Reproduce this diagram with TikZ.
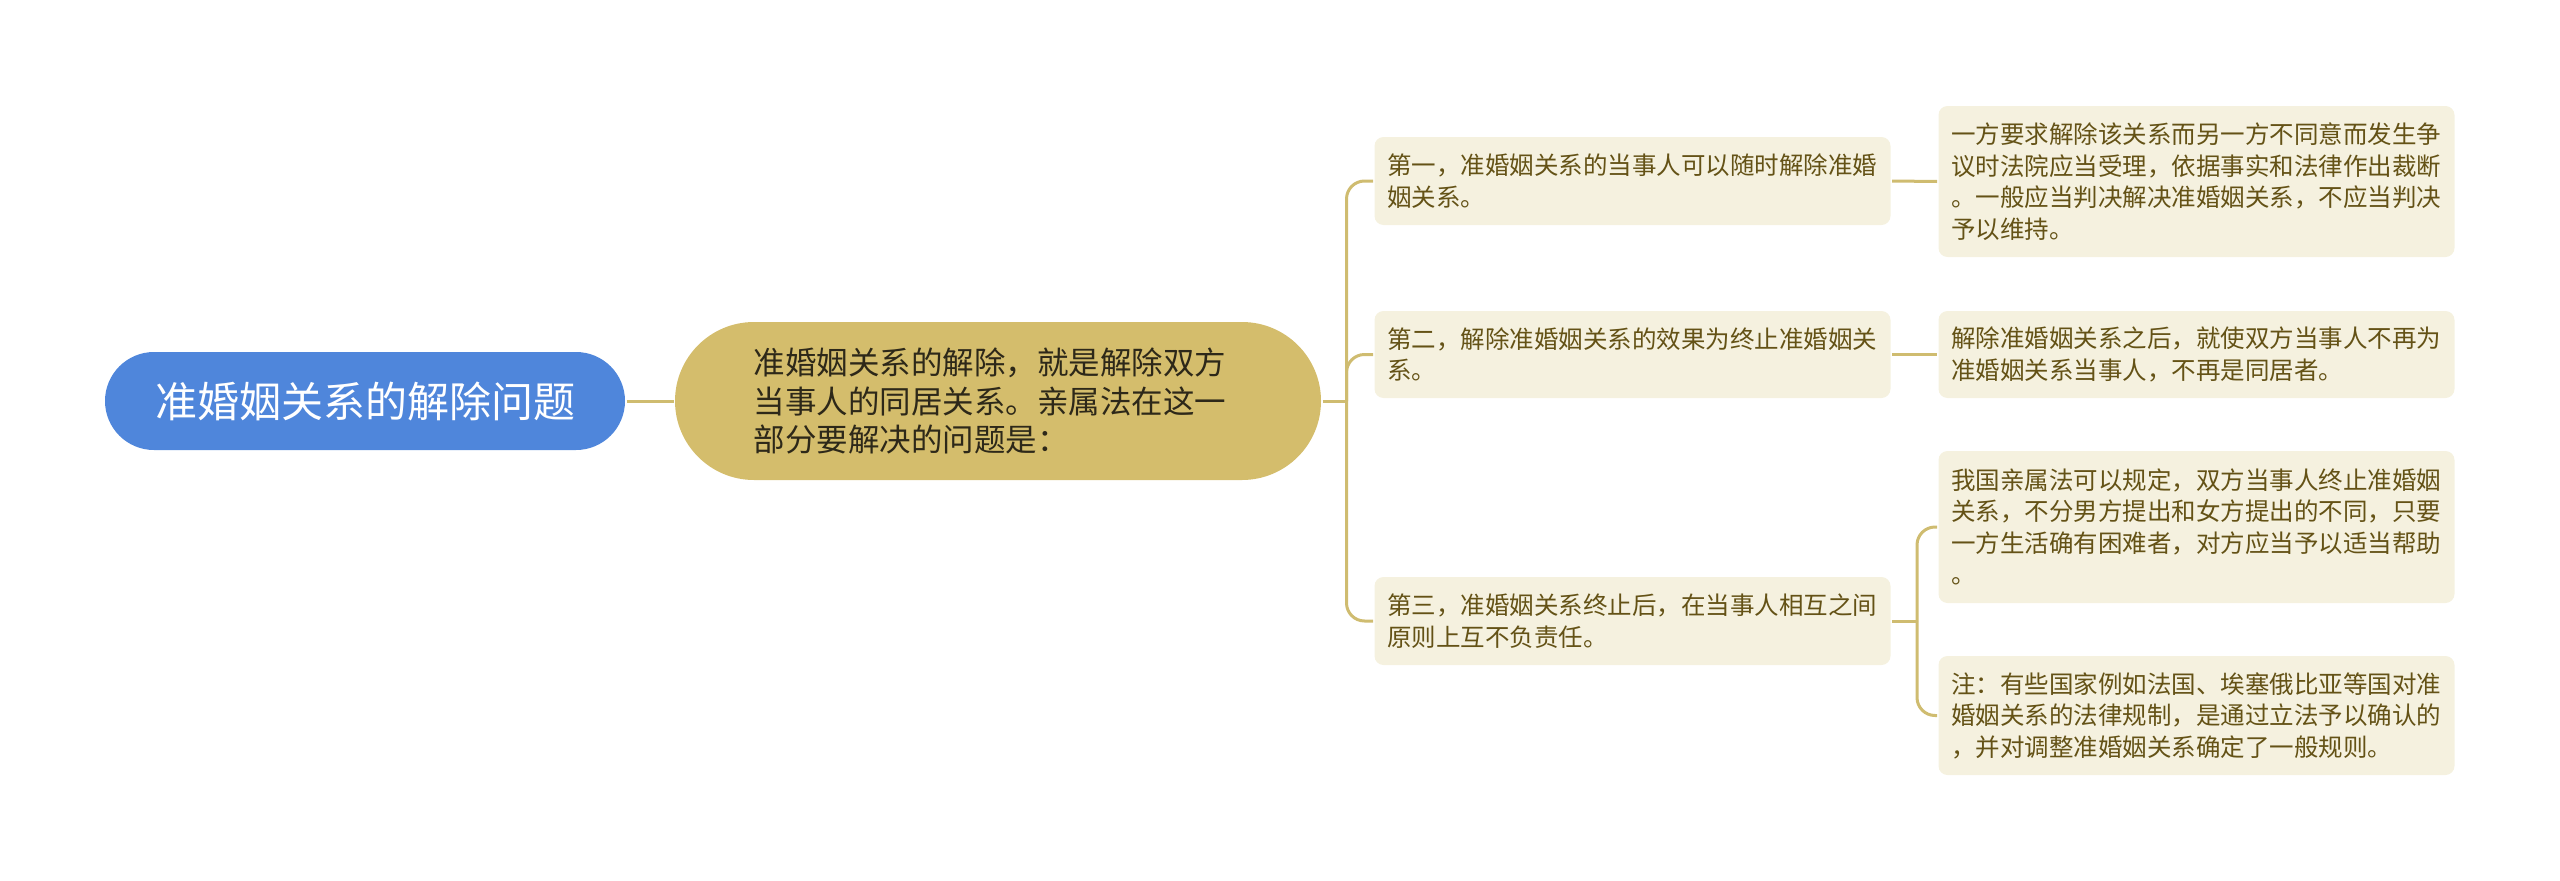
\documentclass[tikz,border=0pt]{standalone}
\usepackage{fontspec}
\setmainfont{Noto Sans CJK SC}
\definecolor{rootblue}{RGB}{79,134,219}
\definecolor{gold}{RGB}{212,189,108}
\definecolor{linegold}{RGB}{207,188,112}
\definecolor{paper}{RGB}{245,241,223}
\definecolor{olive}{RGB}{100,82,22}
\begin{document}
\begin{tikzpicture}[x=1pt, y=-1pt, line width=3pt, draw=linegold,
	rootnode/.style={fill=rootblue, text=white, rounded corners=49pt, minimum width=520pt, minimum height=98pt, inner sep=0pt, font=\fontsize{42}{50}\selectfont},
	mainnode/.style={fill=gold, text={rgb,255:red,45;green,40;blue,25}, rounded corners=79pt, text width=489pt, align=left, inner xsep=78.5pt, minimum height=158pt, font=\fontsize{31.5}{38.5}\selectfont},
	leaf/.style={fill=paper, text=olive, rounded corners=9pt, text width=491pt, align=left, inner xsep=12.5pt, inner ysep=0pt, anchor=west, font=\fontsize{24.5}{31.5}\selectfont},
	link/.style={draw=linegold, line width=3pt, rounded corners=18pt}]
	\useasboundingbox (0,0) rectangle (2560,881);
	\node[rootnode] (root) at (365,401) {准婚姻关系的解除问题};
	\node[mainnode] (main) at (998,401) {准婚姻关系的解除，就是解除双方\\当事人的同居关系。亲属法在这一\\部分要解决的问题是：};
	\node[leaf, minimum height=88pt] (first) at (1373,181) {第一，准婚姻关系的当事人可以随时解除准婚\\姻关系。};
	\node[leaf, minimum height=87pt] (second) at (1373,354.5) {第二，解除准婚姻关系的效果为终止准婚姻关\\系。};
	\node[leaf, minimum height=88pt] (third) at (1373,621) {第三，准婚姻关系终止后，在当事人相互之间\\原则上互不负责任。};
	\node[leaf, minimum height=151pt] (firstnote) at (1937,181.5) {一方要求解除该关系而另一方不同意而发生争\\议时法院应当受理，依据事实和法律作出裁断\\。一般应当判决解决准婚姻关系，不应当判决\\予以维持。};
	\node[leaf, minimum height=87pt] (secondnote) at (1937,354.5) {解除准婚姻关系之后，就使双方当事人不再为\\准婚姻关系当事人，不再是同居者。};
	\node[leaf, minimum height=152pt] (thirdnote) at (1937,527) {我国亲属法可以规定，双方当事人终止准婚姻\\关系，不分男方提出和女方提出的不同，只要\\一方生活确有困难者，对方应当予以适当帮助\\。};
	\node[leaf, minimum height=119pt] (remark) at (1937,715.5) {注：有些国家例如法国、埃塞俄比亚等国对准\\婚姻关系的法律规制，是通过立法予以确认的\\，并对调整准婚姻关系确定了一般规则。};
	\coordinate (split) at ([xshift=24pt]main.east);
	\coordinate (split3) at ([xshift=25pt]third.east);
	\draw[link] (root.east) -- (main.west);
	\draw[link] (main.east) -- (split);
	\draw[link] (split) |- (first.west);
	\draw[link] (split) |- (second.west);
	\draw[link] (split) |- (third.west);
	\draw[link] (first.east) -- (firstnote.west);
	\draw[link] (second.east) -- (secondnote.west);
	\draw[link] (third.east) -- (split3);
	\draw[link] (split3) |- (thirdnote.west);
	\draw[link] (split3) |- (remark.west);
\end{tikzpicture}
\end{document}
